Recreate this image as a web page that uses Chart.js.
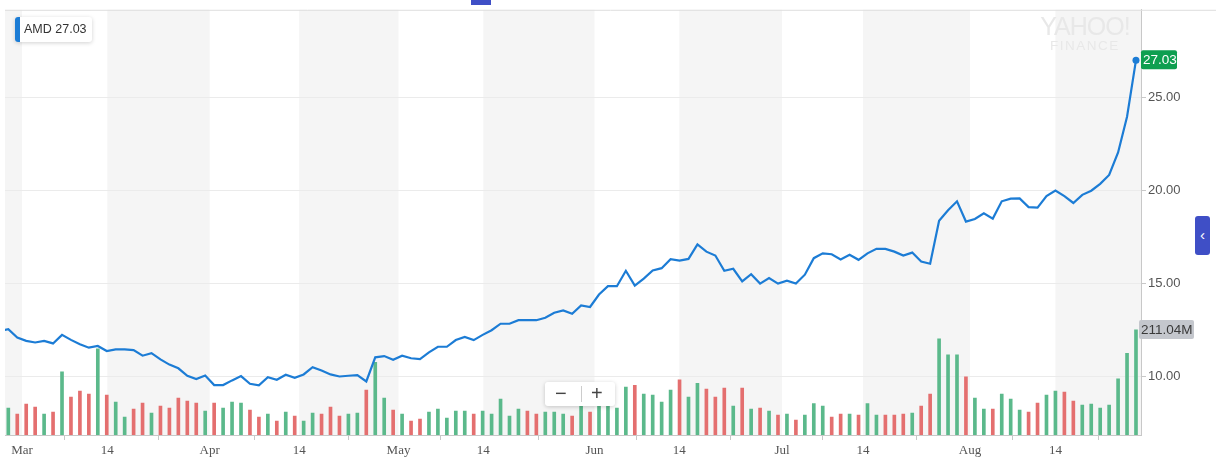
<!DOCTYPE html>
<html>
<head>
<meta charset="utf-8">
<title>AMD</title>
<script src="https://cdn.jsdelivr.net/npm/chart.js@4.4.1/dist/chart.umd.min.js"></script>
<style>
  html, body { margin: 0; padding: 0; background: #fff; }
  #wrap { position: relative; width: 1216px; height: 470px; overflow: hidden; font-family: "Liberation Sans", Arial, sans-serif; }
  #chart { position: absolute; left: 0; top: 0; }
  .legend { position: absolute; left: 15px; top: 17px; width: 68px; height: 25px; padding-left: 9px; background: #fff;
            box-shadow: 0 1px 4px rgba(0,0,0,0.18); border-radius: 3px; font-size: 12.5px; line-height: 25px; color: #333; }
  .legend .mark { position: absolute; left: 0; top: 0; width: 5px; height: 25px; background: #1c7cd5; border-radius: 3px 0 0 3px; }
  .logo { position: absolute; left: 1040px; top: 14px; width: 90px; text-align: center; color: #e8e8e8; }
  .logo .big { font-size: 25px; line-height: 24px; letter-spacing: -1px; }
  .logo .small { font-size: 13.5px; line-height: 14px; letter-spacing: 1.5px; margin-top: 1px; }
  .zoomer { position: absolute; left: 545px; top: 382px; width: 70px; height: 24px; background: #fff;
            box-shadow: 0 1px 4px rgba(0,0,0,0.2); border-radius: 3px; color: #444; font-size: 20px; line-height: 24px; }
  .zoomer .minus { position: absolute; left: 10px; top: -1px; }
  .zoomer .sep { position: absolute; left: 36px; top: 4px; width: 1px; height: 16px; background: #ccc; }
  .zoomer .plus { position: absolute; left: 46px; top: -1px; }
  .tab { position: absolute; left: 1195px; top: 216px; width: 15px; height: 39px; background: #3f4fc6; border-radius: 3px;
         color: #fff; font-size: 15px; line-height: 37px; text-align: center; }
  .topmark { position: absolute; left: 471px; top: 0; width: 20px; height: 5px; background: #3f4fc6; }
</style>
</head>
<body>
<div id="wrap">
  <canvas id="chart" width="1216" height="470"></canvas>
  <div class="topmark"></div>
  <div class="legend"><span class="mark"></span>AMD&nbsp;27.03</div>
  <div class="logo"><div class="big">YAHOO!</div><div class="small">FINANCE</div></div>
  <div class="zoomer"><span class="minus">&minus;</span><span class="sep"></span><span class="plus">+</span></div>
  <div class="tab">&lsaquo;</div>
</div>
<script>
// daily closes, trading-day index -1 .. 126 (first one sits just left of the plot)
const closes = [
  12.45,
  12.55, 12.10, 11.92, 11.83, 11.92, 11.78, 12.24, 11.97, 11.74, 11.55,
  11.64, 11.37, 11.46, 11.46, 11.42, 11.12, 11.26, 10.92, 10.64, 10.44,
  10.04, 9.86, 10.05, 9.54, 9.54, 9.79, 10.02, 9.61, 9.52, 9.96,
  9.82, 10.09, 9.93, 10.11, 10.50, 10.32, 10.11, 10.00, 10.04, 10.07,
  9.73, 11.03, 11.10, 10.90, 11.12, 10.98, 10.94, 11.30, 11.60, 11.60,
  11.96, 12.13, 11.96, 12.24, 12.49, 12.84, 12.84, 13.03, 13.03, 13.03,
  13.16, 13.43, 13.56, 13.38, 13.83, 13.74, 14.41, 14.86, 14.86, 15.69,
  14.89, 15.27, 15.71, 15.83, 16.31, 16.24, 16.33, 17.11, 16.72, 16.51,
  15.69, 15.80, 15.12, 15.51, 15.00, 15.30, 15.00, 15.16, 15.00, 15.48,
  16.37, 16.63, 16.58, 16.30, 16.55, 16.28, 16.63, 16.87, 16.87, 16.72,
  16.51, 16.67, 16.19, 16.07, 18.38, 18.95, 19.43, 18.34, 18.48, 18.79,
  18.50, 19.43, 19.57, 19.59, 19.12, 19.09, 19.71, 20.01, 19.71, 19.34,
  19.78, 20.00, 20.37, 20.85, 22.06, 23.98, 27.03
];

// daily volume in millions, trading-day index 0 .. 126
const volumes = [
  54, 42, 62, 56, 42, 46, 127, 76, 88, 82,
  173, 80, 66, 36, 52, 64, 44, 58, 54, 74,
  68, 64, 48, 64, 54, 66, 64, 50, 36, 42,
  28, 46, 38, 28, 44, 42, 56, 38, 42, 44,
  90, 146, 74, 50, 42, 28, 32, 46, 52, 34,
  48, 48, 42, 48, 42, 72, 38, 52, 48, 42,
  46, 46, 42, 38, 58, 46, 58, 58, 54, 96,
  100, 82, 80, 66, 90, 111, 76, 104, 92, 76,
  94, 58, 94, 52, 54, 48, 40, 42, 30, 40,
  63, 58, 36, 42, 42, 40, 63, 40, 40, 40,
  42, 44, 58, 82, 193, 161, 161, 117, 74, 52,
  52, 82, 72, 50, 46, 64, 80, 88, 86, 68,
  60, 62, 54, 60, 113, 164, 211.04
];

// u = up day (green), d = down day (red), index 0 .. 126
const volumeDir = `
  u d d d u d u d d d
  u d u u d d u d d d
  d d u d u u u d d u
  d u d u u d d d u u
  d u u d u d d u u u
  u u d u u u u u d d
  u u u d u d u u u u
  d u u u u d u u d d
  d u d u d u d u d u
  u u d d u d u u d d
  d u d d u u u d u u
  d u u u d d u u d d
  u u u u u u u
`.trim().split(/\s+/);

const tickPositions = [1.53, 11.06, 22.5, 32.5, 43.6, 53.07, 65.5, 74.97, 86.45, 95.5, 107.45, 117.0];
const tickLabels = ['Mar', '14', 'Apr', '14', 'May', '14', 'Jun', '14', 'Jul', '14', 'Aug', '14'];
const priceTicks = [10, 15, 20, 25];

const lineColor = '#1c7cd5';
const upColor = '#5bb98b';
const downColor = '#e46f6f';

// gray shading from each mid-month tick to the next month, plus the stub before March
const shadePlugin = {
  id: 'shade',
  beforeDraw(chart) {
    const { ctx, chartArea: a, scales: { x } } = chart;
    ctx.save();
    ctx.fillStyle = '#f5f5f5';
    const stops = [x.min].concat(tickPositions, [x.max]);
    for (let i = 0; i < stops.length - 1; i += 2) {
      const x0 = x.getPixelForValue(stops[i]);
      const x1 = x.getPixelForValue(stops[i + 1]);
      ctx.fillRect(x0, a.top, x1 - x0, a.bottom - a.top);
    }
    ctx.restore();
  },
  afterDraw(chart) {
    const { ctx, chartArea: a, scales: { y, vol } } = chart;
    ctx.save();
    ctx.strokeStyle = '#dedede';
    ctx.lineWidth = 1;
    ctx.beginPath();
    ctx.moveTo(a.left, a.top + 0.5);
    ctx.lineTo(chart.width, a.top + 0.5);
    ctx.stroke();

    ctx.font = '13.5px "Liberation Sans", Arial, sans-serif';
    ctx.textBaseline = 'middle';

    // last close tag
    const lastClose = closes[closes.length - 1];
    const py = y.getPixelForValue(lastClose);
    ctx.fillStyle = '#0e9f50';
    ctx.beginPath();
    ctx.roundRect(a.right, py - 10, 36, 19, 2);
    ctx.fill();
    ctx.fillStyle = '#fff';
    ctx.fillText(lastClose.toFixed(2), a.right + 2, py);

    // last volume tag
    const lastVol = volumes[volumes.length - 1];
    const vy = vol.getPixelForValue(lastVol);
    ctx.fillStyle = '#c4c7cd';
    ctx.beginPath();
    ctx.roundRect(a.right - 2, vy - 10, 55, 19, 2);
    ctx.fill();
    ctx.fillStyle = '#3a3a3a';
    ctx.fillText(lastVol.toFixed(2) + 'M', a.right, vy);
    ctx.restore();
  }
};

const ctx = document.getElementById('chart').getContext('2d');

new Chart(ctx, {
  type: 'line',
  data: {
    datasets: [
      {
        type: 'line',
        data: closes.map((v, i) => ({ x: i - 1, y: v })),
        yAxisID: 'y',
        borderColor: lineColor,
        borderWidth: 2.2,
        tension: 0,
        pointRadius: c => (c.dataIndex === closes.length - 1 ? 3.5 : 0),
        pointBackgroundColor: lineColor,
        pointBorderWidth: 0,
        order: 0
      },
      {
        type: 'bar',
        data: volumes.map((v, i) => ({ x: i, y: v })),
        yAxisID: 'vol',
        backgroundColor: volumeDir.map(d => (d === 'u' ? upColor : downColor)),
        barThickness: 3,
        order: 1
      }
    ]
  },
  options: {
    responsive: false,
    animation: false,
    layout: { padding: { left: 5, top: 6 } },
    plugins: { legend: { display: false }, tooltip: { enabled: false } },
    scales: {
      x: {
        type: 'linear',
        min: -0.37,
        max: 126.56,
        offset: false,
        afterBuildTicks: s => { s.ticks = tickPositions.map(v => ({ value: v })); },
        afterFit: s => { s.height = 35; },
        ticks: {
          callback: (v, i) => tickLabels[i],
          autoSkip: false,
          maxRotation: 0,
          padding: 3,
          color: '#555',
          font: { family: '"Liberation Serif", "Times New Roman", serif', size: 13 }
        },
        grid: { drawOnChartArea: false, tickLength: 5, color: '#c8c8c8' },
        border: { color: '#c8c8c8' }
      },
      y: {
        position: 'right',
        min: 6.85,
        max: 29.74,
        afterBuildTicks: s => { s.ticks = priceTicks.map(v => ({ value: v })); },
        afterFit: s => { s.width = 75; },
        ticks: {
          callback: v => v.toFixed(2),
          padding: 2,
          color: '#555',
          font: { family: '"Liberation Sans", Arial, sans-serif', size: 13 }
        },
        grid: { color: '#ebebeb', tickLength: 5, tickColor: '#c8c8c8' },
        border: { color: '#c8c8c8' }
      },
      vol: {
        display: false,
        min: 0,
        max: 854
      }
    }
  },
  plugins: [shadePlugin]
});
</script>
</body>
</html>
